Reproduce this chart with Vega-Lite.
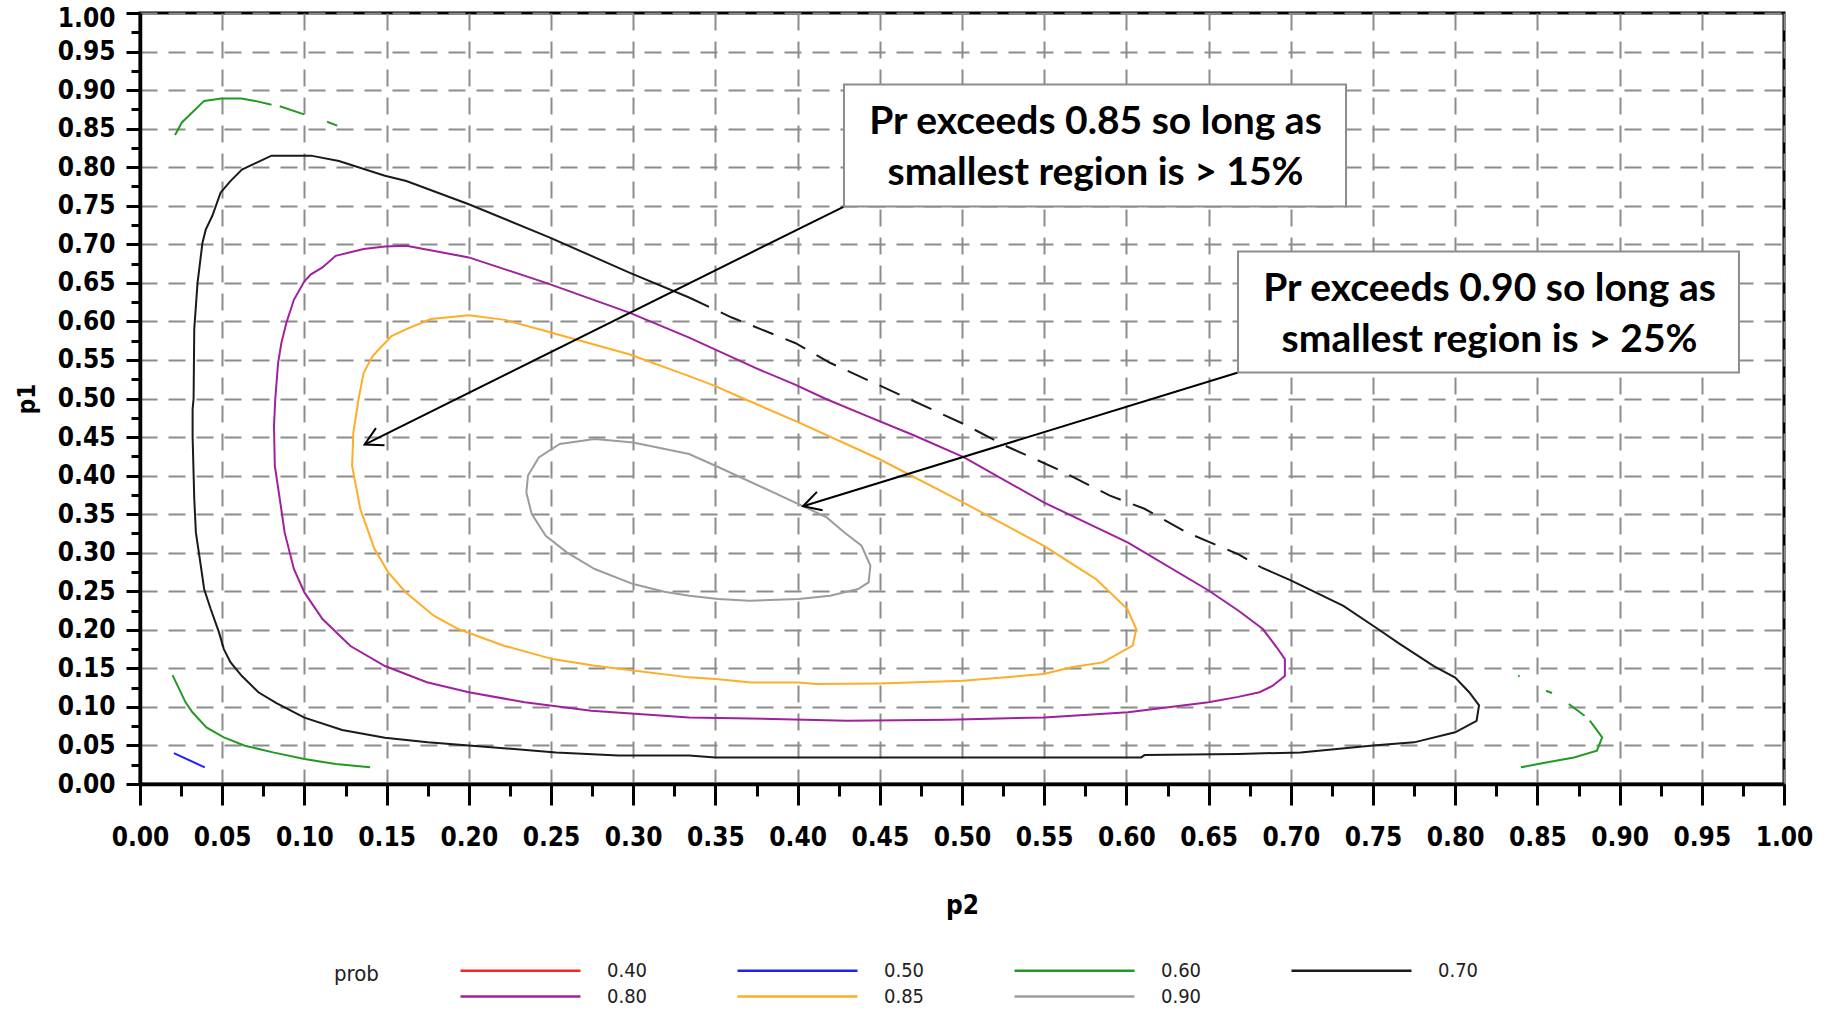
{
  "$schema": "https://vega.github.io/schema/vega-lite/v6.json",
  "width": 1644,
  "height": 771,
  "autosize": {"type": "none"},
  "padding": {"left": 140, "top": 13, "right": 41, "bottom": 230},
  "background": "white",
  "resolve": {"axis": {"x": "independent", "y": "independent"}},
  "config": {
    "view": {"stroke": "black", "strokeWidth": 3},
    "axis": {
      "domainColor": "black", "domainWidth": 3.5,
      "tickColor": "black", "tickWidth": 3,
      "gridColor": "#8c8c8c", "gridWidth": 2, "gridDash": [17, 11],
      "labelFont": "DejaVu Sans Condensed, Liberation Sans Narrow, DejaVu Sans",
      "labelFontWeight": "bold", "labelFontSize": 26, "labelColor": "black",
      "labelOverlap": false, "labelFlush": false, "labelBound": false,
      "titleFont": "DejaVu Sans Condensed, Liberation Sans Narrow, DejaVu Sans",
      "titleFontWeight": "bold", "titleFontSize": 26, "titleColor": "black"
    }
  },
  "datasets": {
    "contours": [
      {"prob":"0.70","seg":"70s","i":0,"p2":0.334,"p1":0.631},
      {"prob":"0.70","seg":"70s","i":1,"p2":0.298,"p1":0.663},
      {"prob":"0.70","seg":"70s","i":2,"p2":0.249,"p1":0.709},
      {"prob":"0.70","seg":"70s","i":3,"p2":0.200,"p1":0.752},
      {"prob":"0.70","seg":"70s","i":4,"p2":0.162,"p1":0.782},
      {"prob":"0.70","seg":"70s","i":5,"p2":0.149,"p1":0.789},
      {"prob":"0.70","seg":"70s","i":6,"p2":0.121,"p1":0.808},
      {"prob":"0.70","seg":"70s","i":7,"p2":0.104,"p1":0.815},
      {"prob":"0.70","seg":"70s","i":8,"p2":0.080,"p1":0.815},
      {"prob":"0.70","seg":"70s","i":9,"p2":0.070,"p1":0.805},
      {"prob":"0.70","seg":"70s","i":10,"p2":0.062,"p1":0.797},
      {"prob":"0.70","seg":"70s","i":11,"p2":0.055,"p1":0.782},
      {"prob":"0.70","seg":"70s","i":12,"p2":0.049,"p1":0.767},
      {"prob":"0.70","seg":"70s","i":13,"p2":0.044,"p1":0.737},
      {"prob":"0.70","seg":"70s","i":14,"p2":0.040,"p1":0.719},
      {"prob":"0.70","seg":"70s","i":15,"p2":0.038,"p1":0.702},
      {"prob":"0.70","seg":"70s","i":16,"p2":0.035,"p1":0.650},
      {"prob":"0.70","seg":"70s","i":17,"p2":0.033,"p1":0.590},
      {"prob":"0.70","seg":"70s","i":18,"p2":0.0326,"p1":0.500},
      {"prob":"0.70","seg":"70s","i":19,"p2":0.032,"p1":0.486},
      {"prob":"0.70","seg":"70s","i":20,"p2":0.032,"p1":0.450},
      {"prob":"0.70","seg":"70s","i":21,"p2":0.033,"p1":0.370},
      {"prob":"0.70","seg":"70s","i":22,"p2":0.034,"p1":0.326},
      {"prob":"0.70","seg":"70s","i":23,"p2":0.037,"p1":0.283},
      {"prob":"0.70","seg":"70s","i":24,"p2":0.039,"p1":0.253},
      {"prob":"0.70","seg":"70s","i":25,"p2":0.043,"p1":0.227},
      {"prob":"0.70","seg":"70s","i":26,"p2":0.048,"p1":0.197},
      {"prob":"0.70","seg":"70s","i":27,"p2":0.051,"p1":0.175},
      {"prob":"0.70","seg":"70s","i":28,"p2":0.055,"p1":0.158},
      {"prob":"0.70","seg":"70s","i":29,"p2":0.062,"p1":0.140},
      {"prob":"0.70","seg":"70s","i":30,"p2":0.072,"p1":0.119},
      {"prob":"0.70","seg":"70s","i":31,"p2":0.083,"p1":0.105},
      {"prob":"0.70","seg":"70s","i":32,"p2":0.100,"p1":0.086},
      {"prob":"0.70","seg":"70s","i":33,"p2":0.123,"p1":0.070},
      {"prob":"0.70","seg":"70s","i":34,"p2":0.149,"p1":0.060},
      {"prob":"0.70","seg":"70s","i":35,"p2":0.175,"p1":0.054},
      {"prob":"0.70","seg":"70s","i":36,"p2":0.200,"p1":0.050},
      {"prob":"0.70","seg":"70s","i":37,"p2":0.253,"p1":0.041},
      {"prob":"0.70","seg":"70s","i":38,"p2":0.291,"p1":0.037},
      {"prob":"0.70","seg":"70s","i":39,"p2":0.334,"p1":0.037},
      {"prob":"0.70","seg":"70s","i":40,"p2":0.350,"p1":0.0345},
      {"prob":"0.70","seg":"70s","i":41,"p2":0.609,"p1":0.0345},
      {"prob":"0.70","seg":"70s","i":42,"p2":0.611,"p1":0.0375},
      {"prob":"0.70","seg":"70s","i":43,"p2":0.668,"p1":0.039},
      {"prob":"0.70","seg":"70s","i":44,"p2":0.706,"p1":0.041},
      {"prob":"0.70","seg":"70s","i":45,"p2":0.750,"p1":0.050},
      {"prob":"0.70","seg":"70s","i":46,"p2":0.775,"p1":0.054},
      {"prob":"0.70","seg":"70s","i":47,"p2":0.800,"p1":0.067},
      {"prob":"0.70","seg":"70s","i":48,"p2":0.813,"p1":0.082},
      {"prob":"0.70","seg":"70s","i":49,"p2":0.8145,"p1":0.102},
      {"prob":"0.70","seg":"70s","i":50,"p2":0.8085,"p1":0.119},
      {"prob":"0.70","seg":"70s","i":51,"p2":0.800,"p1":0.138},
      {"prob":"0.70","seg":"70s","i":52,"p2":0.787,"p1":0.153},
      {"prob":"0.70","seg":"70s","i":53,"p2":0.766,"p1":0.182},
      {"prob":"0.70","seg":"70s","i":54,"p2":0.753,"p1":0.201},
      {"prob":"0.70","seg":"70s","i":55,"p2":0.732,"p1":0.231},
      {"prob":"0.70","seg":"70s","i":56,"p2":0.700,"p1":0.264},
      {"prob":"0.70","seg":"70s","i":57,"p2":0.682,"p1":0.281},

      {"prob":"0.80","seg":"80","i":0,"p2":0.0823,"p1":0.500},
      {"prob":"0.80","seg":"80","i":1,"p2":0.084,"p1":0.546},
      {"prob":"0.80","seg":"80","i":2,"p2":0.086,"p1":0.572},
      {"prob":"0.80","seg":"80","i":3,"p2":0.089,"p1":0.598},
      {"prob":"0.80","seg":"80","i":4,"p2":0.0936,"p1":0.628},
      {"prob":"0.80","seg":"80","i":5,"p2":0.100,"p1":0.652},
      {"prob":"0.80","seg":"80","i":6,"p2":0.104,"p1":0.661},
      {"prob":"0.80","seg":"80","i":7,"p2":0.111,"p1":0.670},
      {"prob":"0.80","seg":"80","i":8,"p2":0.119,"p1":0.685},
      {"prob":"0.80","seg":"80","i":9,"p2":0.136,"p1":0.694},
      {"prob":"0.80","seg":"80","i":10,"p2":0.149,"p1":0.697},
      {"prob":"0.80","seg":"80","i":11,"p2":0.162,"p1":0.698},
      {"prob":"0.80","seg":"80","i":12,"p2":0.200,"p1":0.683},
      {"prob":"0.80","seg":"80","i":13,"p2":0.247,"p1":0.650},
      {"prob":"0.80","seg":"80","i":14,"p2":0.298,"p1":0.611},
      {"prob":"0.80","seg":"80","i":15,"p2":0.334,"p1":0.579},
      {"prob":"0.80","seg":"80","i":16,"p2":0.350,"p1":0.5635},
      {"prob":"0.80","seg":"80","i":17,"p2":0.375,"p1":0.539},
      {"prob":"0.80","seg":"80","i":18,"p2":0.3985,"p1":0.518},
      {"prob":"0.80","seg":"80","i":19,"p2":0.4166,"p1":0.500},
      {"prob":"0.80","seg":"80","i":20,"p2":0.439,"p1":0.480},
      {"prob":"0.80","seg":"80","i":21,"p2":0.471,"p1":0.452},
      {"prob":"0.80","seg":"80","i":22,"p2":0.501,"p1":0.424},
      {"prob":"0.80","seg":"80","i":23,"p2":0.550,"p1":0.365},
      {"prob":"0.80","seg":"80","i":24,"p2":0.601,"p1":0.313},
      {"prob":"0.80","seg":"80","i":25,"p2":0.650,"p1":0.251},
      {"prob":"0.80","seg":"80","i":26,"p2":0.668,"p1":0.225},
      {"prob":"0.80","seg":"80","i":27,"p2":0.683,"p1":0.201},
      {"prob":"0.80","seg":"80","i":28,"p2":0.6915,"p1":0.177},
      {"prob":"0.80","seg":"80","i":29,"p2":0.6964,"p1":0.162},
      {"prob":"0.80","seg":"80","i":30,"p2":0.6964,"p1":0.140},
      {"prob":"0.80","seg":"80","i":31,"p2":0.689,"p1":0.1275},
      {"prob":"0.80","seg":"80","i":32,"p2":0.681,"p1":0.119},
      {"prob":"0.80","seg":"80","i":33,"p2":0.668,"p1":0.113},
      {"prob":"0.80","seg":"80","i":34,"p2":0.650,"p1":0.106},
      {"prob":"0.80","seg":"80","i":35,"p2":0.601,"p1":0.093},
      {"prob":"0.80","seg":"80","i":36,"p2":0.550,"p1":0.0864},
      {"prob":"0.80","seg":"80","i":37,"p2":0.492,"p1":0.0834},
      {"prob":"0.80","seg":"80","i":38,"p2":0.430,"p1":0.082},
      {"prob":"0.80","seg":"80","i":39,"p2":0.371,"p1":0.085},
      {"prob":"0.80","seg":"80","i":40,"p2":0.334,"p1":0.0864},
      {"prob":"0.80","seg":"80","i":41,"p2":0.2745,"p1":0.095},
      {"prob":"0.80","seg":"80","i":42,"p2":0.234,"p1":0.106},
      {"prob":"0.80","seg":"80","i":43,"p2":0.200,"p1":0.119},
      {"prob":"0.80","seg":"80","i":44,"p2":0.1745,"p1":0.132},
      {"prob":"0.80","seg":"80","i":45,"p2":0.149,"p1":0.153},
      {"prob":"0.80","seg":"80","i":46,"p2":0.128,"p1":0.179},
      {"prob":"0.80","seg":"80","i":47,"p2":0.111,"p1":0.214},
      {"prob":"0.80","seg":"80","i":48,"p2":0.100,"p1":0.2485},
      {"prob":"0.80","seg":"80","i":49,"p2":0.0936,"p1":0.279},
      {"prob":"0.80","seg":"80","i":50,"p2":0.088,"p1":0.326},
      {"prob":"0.80","seg":"80","i":51,"p2":0.085,"p1":0.370},
      {"prob":"0.80","seg":"80","i":52,"p2":0.082,"p1":0.413},
      {"prob":"0.80","seg":"80","i":53,"p2":0.0815,"p1":0.465},
      {"prob":"0.80","seg":"80","i":54,"p2":0.0823,"p1":0.500},

      {"prob":"0.85","seg":"85","i":0,"p2":0.133,"p1":0.500},
      {"prob":"0.85","seg":"85","i":1,"p2":0.136,"p1":0.533},
      {"prob":"0.85","seg":"85","i":2,"p2":0.1415,"p1":0.555},
      {"prob":"0.85","seg":"85","i":3,"p2":0.149,"p1":0.572},
      {"prob":"0.85","seg":"85","i":4,"p2":0.153,"p1":0.581},
      {"prob":"0.85","seg":"85","i":5,"p2":0.162,"p1":0.590},
      {"prob":"0.85","seg":"85","i":6,"p2":0.177,"p1":0.603},
      {"prob":"0.85","seg":"85","i":7,"p2":0.200,"p1":0.608},
      {"prob":"0.85","seg":"85","i":8,"p2":0.222,"p1":0.602},
      {"prob":"0.85","seg":"85","i":9,"p2":0.251,"p1":0.585},
      {"prob":"0.85","seg":"85","i":10,"p2":0.298,"p1":0.557},
      {"prob":"0.85","seg":"85","i":11,"p2":0.334,"p1":0.529},
      {"prob":"0.85","seg":"85","i":12,"p2":0.350,"p1":0.516},
      {"prob":"0.85","seg":"85","i":13,"p2":0.367,"p1":0.500},
      {"prob":"0.85","seg":"85","i":14,"p2":0.4006,"p1":0.469},
      {"prob":"0.85","seg":"85","i":15,"p2":0.4496,"p1":0.4215},
      {"prob":"0.85","seg":"85","i":16,"p2":0.5006,"p1":0.3653},
      {"prob":"0.85","seg":"85","i":17,"p2":0.5496,"p1":0.3091},
      {"prob":"0.85","seg":"85","i":18,"p2":0.5815,"p1":0.2658},
      {"prob":"0.85","seg":"85","i":19,"p2":0.6006,"p1":0.2269},
      {"prob":"0.85","seg":"85","i":20,"p2":0.606,"p1":0.201},
      {"prob":"0.85","seg":"85","i":21,"p2":0.6038,"p1":0.1794},
      {"prob":"0.85","seg":"85","i":22,"p2":0.5857,"p1":0.1577},
      {"prob":"0.85","seg":"85","i":23,"p2":0.5666,"p1":0.1513},
      {"prob":"0.85","seg":"85","i":24,"p2":0.5496,"p1":0.1426},
      {"prob":"0.85","seg":"85","i":25,"p2":0.5006,"p1":0.134},
      {"prob":"0.85","seg":"85","i":26,"p2":0.4496,"p1":0.1305},
      {"prob":"0.85","seg":"85","i":27,"p2":0.4113,"p1":0.1296},
      {"prob":"0.85","seg":"85","i":28,"p2":0.4006,"p1":0.1318},
      {"prob":"0.85","seg":"85","i":29,"p2":0.3719,"p1":0.1318},
      {"prob":"0.85","seg":"85","i":30,"p2":0.350,"p1":0.1361},
      {"prob":"0.85","seg":"85","i":31,"p2":0.334,"p1":0.1383},
      {"prob":"0.85","seg":"85","i":32,"p2":0.2766,"p1":0.1534},
      {"prob":"0.85","seg":"85","i":33,"p2":0.251,"p1":0.162},
      {"prob":"0.85","seg":"85","i":34,"p2":0.2213,"p1":0.1794},
      {"prob":"0.85","seg":"85","i":35,"p2":0.1936,"p1":0.201},
      {"prob":"0.85","seg":"85","i":36,"p2":0.1787,"p1":0.2183},
      {"prob":"0.85","seg":"85","i":37,"p2":0.1617,"p1":0.2485},
      {"prob":"0.85","seg":"85","i":38,"p2":0.151,"p1":0.2745},
      {"prob":"0.85","seg":"85","i":39,"p2":0.1426,"p1":0.305},
      {"prob":"0.85","seg":"85","i":40,"p2":0.134,"p1":0.3566},
      {"prob":"0.85","seg":"85","i":41,"p2":0.129,"p1":0.413},
      {"prob":"0.85","seg":"85","i":42,"p2":0.1298,"p1":0.456},
      {"prob":"0.85","seg":"85","i":43,"p2":0.133,"p1":0.500},

      {"prob":"0.90","seg":"90","i":0,"p2":0.2766,"p1":0.4474},
      {"prob":"0.90","seg":"90","i":1,"p2":0.300,"p1":0.443},
      {"prob":"0.90","seg":"90","i":2,"p2":0.334,"p1":0.428},
      {"prob":"0.90","seg":"90","i":3,"p2":0.350,"p1":0.4128},
      {"prob":"0.90","seg":"90","i":4,"p2":0.4006,"p1":0.3631},
      {"prob":"0.90","seg":"90","i":5,"p2":0.4177,"p1":0.3458},
      {"prob":"0.90","seg":"90","i":6,"p2":0.4283,"p1":0.3264},
      {"prob":"0.90","seg":"90","i":7,"p2":0.4389,"p1":0.309},
      {"prob":"0.90","seg":"90","i":8,"p2":0.4443,"p1":0.2831},
      {"prob":"0.90","seg":"90","i":9,"p2":0.4432,"p1":0.2615},
      {"prob":"0.90","seg":"90","i":10,"p2":0.4368,"p1":0.2529},
      {"prob":"0.90","seg":"90","i":11,"p2":0.4198,"p1":0.2442},
      {"prob":"0.90","seg":"90","i":12,"p2":0.4006,"p1":0.2399},
      {"prob":"0.90","seg":"90","i":13,"p2":0.3708,"p1":0.2377},
      {"prob":"0.90","seg":"90","i":14,"p2":0.3517,"p1":0.2399},
      {"prob":"0.90","seg":"90","i":15,"p2":0.334,"p1":0.2442},
      {"prob":"0.90","seg":"90","i":16,"p2":0.319,"p1":0.2494},
      {"prob":"0.90","seg":"90","i":17,"p2":0.300,"p1":0.2593},
      {"prob":"0.90","seg":"90","i":18,"p2":0.2766,"p1":0.2788},
      {"prob":"0.90","seg":"90","i":19,"p2":0.2596,"p1":0.3004},
      {"prob":"0.90","seg":"90","i":20,"p2":0.2468,"p1":0.322},
      {"prob":"0.90","seg":"90","i":21,"p2":0.2383,"p1":0.350},
      {"prob":"0.90","seg":"90","i":22,"p2":0.235,"p1":0.378},
      {"prob":"0.90","seg":"90","i":23,"p2":0.236,"p1":0.400},
      {"prob":"0.90","seg":"90","i":24,"p2":0.2426,"p1":0.4236},
      {"prob":"0.90","seg":"90","i":25,"p2":0.2553,"p1":0.441},
      {"prob":"0.90","seg":"90","i":26,"p2":0.2766,"p1":0.4474},

      {"prob":"0.60","seg":"60a","i":0,"p2":0.0213,"p1":0.8417},
      {"prob":"0.60","seg":"60a","i":1,"p2":0.0255,"p1":0.858},
      {"prob":"0.60","seg":"60a","i":2,"p2":0.039,"p1":0.886},
      {"prob":"0.60","seg":"60a","i":3,"p2":0.0496,"p1":0.889},
      {"prob":"0.60","seg":"60a","i":4,"p2":0.0617,"p1":0.889},
      {"prob":"0.60","seg":"60a","i":5,"p2":0.070,"p1":0.886},
      {"prob":"0.60","seg":"60a","i":6,"p2":0.080,"p1":0.881},
      {"prob":"0.60","seg":"60b","i":0,"p2":0.085,"p1":0.879},
      {"prob":"0.60","seg":"60b","i":1,"p2":0.0998,"p1":0.8685},
      {"prob":"0.60","seg":"60c","i":0,"p2":0.1138,"p1":0.859},
      {"prob":"0.60","seg":"60c","i":1,"p2":0.120,"p1":0.854},
      {"prob":"0.60","seg":"60d","i":0,"p2":0.0198,"p1":0.1413},
      {"prob":"0.60","seg":"60d","i":1,"p2":0.0277,"p1":0.1059},
      {"prob":"0.60","seg":"60d","i":2,"p2":0.0319,"p1":0.093},
      {"prob":"0.60","seg":"60d","i":3,"p2":0.0404,"p1":0.0734},
      {"prob":"0.60","seg":"60d","i":4,"p2":0.051,"p1":0.0605},
      {"prob":"0.60","seg":"60d","i":5,"p2":0.0638,"p1":0.0497},
      {"prob":"0.60","seg":"60d","i":6,"p2":0.0809,"p1":0.041},
      {"prob":"0.60","seg":"60d","i":7,"p2":0.100,"p1":0.0324},
      {"prob":"0.60","seg":"60d","i":8,"p2":0.119,"p1":0.0259},
      {"prob":"0.60","seg":"60d","i":9,"p2":0.140,"p1":0.0216},
      {"prob":"0.60","seg":"60e","i":0,"p2":0.8383,"p1":0.1404},
      {"prob":"0.60","seg":"60e","i":1,"p2":0.8392,"p1":0.1398},
      {"prob":"0.60","seg":"60f","i":0,"p2":0.8553,"p1":0.121},
      {"prob":"0.60","seg":"60f","i":1,"p2":0.8589,"p1":0.118},
      {"prob":"0.60","seg":"60g","i":0,"p2":0.8691,"p1":0.1037},
      {"prob":"0.60","seg":"60g","i":1,"p2":0.8787,"p1":0.0886},
      {"prob":"0.60","seg":"60h","i":0,"p2":0.8819,"p1":0.0821},
      {"prob":"0.60","seg":"60h","i":1,"p2":0.8894,"p1":0.0605},
      {"prob":"0.60","seg":"60h","i":2,"p2":0.8862,"p1":0.0432},
      {"prob":"0.60","seg":"60h","i":3,"p2":0.8723,"p1":0.0345},
      {"prob":"0.60","seg":"60h","i":4,"p2":0.8553,"p1":0.028},
      {"prob":"0.60","seg":"60h","i":5,"p2":0.840,"p1":0.0216},

      {"prob":"0.50","seg":"50","i":0,"p2":0.0206,"p1":0.040},
      {"prob":"0.50","seg":"50","i":1,"p2":0.0394,"p1":0.0216}
    ],
    "dashed": [
      {"prob":"0.70","seg":"70d","i":0,"p2":0.334,"p1":0.631},
      {"prob":"0.70","seg":"70d","i":1,"p2":0.360,"p1":0.605},
      {"prob":"0.70","seg":"70d","i":2,"p2":0.3985,"p1":0.572},
      {"prob":"0.70","seg":"70d","i":3,"p2":0.420,"p1":0.546},
      {"prob":"0.70","seg":"70d","i":4,"p2":0.460,"p1":0.507},
      {"prob":"0.70","seg":"70d","i":5,"p2":0.501,"p1":0.467},
      {"prob":"0.70","seg":"70d","i":6,"p2":0.526,"p1":0.439},
      {"prob":"0.70","seg":"70d","i":7,"p2":0.558,"p1":0.4085},
      {"prob":"0.70","seg":"70d","i":8,"p2":0.590,"p1":0.374},
      {"prob":"0.70","seg":"70d","i":9,"p2":0.611,"p1":0.357},
      {"prob":"0.70","seg":"70d","i":10,"p2":0.637,"p1":0.326},
      {"prob":"0.70","seg":"70d","i":11,"p2":0.668,"p1":0.298},
      {"prob":"0.70","seg":"70d","i":12,"p2":0.682,"p1":0.281}
    ],
    "arrows": [
      {"id":1,"p2":0.4282,"p1":0.749,"p2e":0.1366,"p1e":0.4403},
      {"id":2,"p2":0.6679,"p1":0.5337,"p2e":0.4033,"p1e":0.3603}
    ],
    "boxes": [
      {"id":1,"bx1":0.4282,"bx2":0.7336,"by1":0.9073,"by2":0.749,"cx":0.5812,"cy":0.858,"t":["Pr exceeds 0.85 so long as","smallest region is > 15%"]},
      {"id":2,"bx1":0.6679,"bx2":0.9726,"by1":0.6907,"by2":0.5337,"cx":0.8209,"cy":0.6414,"t":["Pr exceeds 0.90 so long as","smallest region is > 25%"]}
    ]
  },
  "layer": [
    {
      "data": {"name": "contours"},
      "mark": {"type": "line", "strokeWidth": 2, "interpolate": "linear"},
      "encoding": {
        "x": {
          "field": "p2", "type": "quantitative", "title": "p2",
          "scale": {"domain": [0, 1], "nice": false, "zero": false},
          "axis": {
            "orient": "bottom",
            "values": [0,0.05,0.1,0.15,0.2,0.25,0.3,0.35,0.4,0.45,0.5,0.55,0.6,0.65,0.7,0.75,0.8,0.85,0.9,0.95,1],
            "format": ".2f",
            "tickSize": 21,
            "grid": true,
            "labelOverlap": false,
            "labelPadding": 19,
            "titlePadding": 42
          }
        },
        "y": {
          "field": "p1", "type": "quantitative", "title": "p1",
          "scale": {"domain": [0, 1], "nice": false, "zero": false},
          "axis": {
            "orient": "left",
            "values": [0,0.05,0.1,0.15,0.2,0.25,0.3,0.35,0.4,0.45,0.5,0.55,0.6,0.65,0.7,0.75,0.8,0.85,0.9,0.95,1],
            "format": ".2f",
            "tickSize": 14,
            "grid": true,
            "labelOverlap": false,
            "labelOffset": {"condition": {"test": "datum.value === 1", "value": 5}, "value": 0},
            "labelPadding": 11,
            "titleFontSize": 24,
            "titlePadding": 18
          }
        },
        "color": {
          "field": "prob", "type": "nominal",
          "scale": {
            "domain": ["0.40","0.50","0.60","0.70","0.80","0.85","0.90"],
            "range": ["#ff2020","#2020ff","#229a22","#1a1a1a","#a020a0","#ffad26","#9c9c9c"]
          },
          "legend": {
            "orient": "none", "legendX": 194, "legendY": 944,
            "direction": "horizontal", "columns": 4,
            "title": "prob", "titleOrient": "left", "titlePadding": 80,
            "titleAnchor": "start", "titleBaseline": "line-top", "titleLineHeight": 36,
            "titleFont": "DejaVu Sans Condensed, Liberation Sans Narrow, DejaVu Sans",
            "titleFontSize": 22, "titleFontWeight": "normal", "titleColor": "#222",
            "symbolType": "M-1,0H9", "symbolSize": 576, "symbolStrokeWidth": 2.5,
            "labelOffset": 121, "columnPadding": 84, "rowPadding": 2,
            "labelFont": "DejaVu Sans Condensed, Liberation Sans Narrow, DejaVu Sans",
            "labelFontSize": 20, "labelColor": "#222", "padding": 0
          }
        },
        "detail": {"field": "seg"},
        "order": {"field": "i", "type": "quantitative"}
      }
    },
    {
      "data": {"name": "arrows"},
      "mark": {"type": "point", "opacity": 0},
      "encoding": {
        "x": {
          "field": "p2", "type": "quantitative",
          "axis": {
            "orient": "bottom", "title": null, "labels": false, "domain": false, "grid": false,
            "values": [0.025,0.075,0.125,0.175,0.225,0.275,0.325,0.375,0.425,0.475,0.525,0.575,0.625,0.675,0.725,0.775,0.825,0.875,0.925,0.975],
            "tickSize": 12
          }
        },
        "y": {
          "field": "p1", "type": "quantitative",
          "axis": {
            "orient": "left", "title": null, "labels": false, "domain": false, "grid": false,
            "values": [0.025,0.075,0.125,0.175,0.225,0.275,0.325,0.375,0.425,0.475,0.525,0.575,0.625,0.675,0.725,0.775,0.825,0.875,0.925,0.975],
            "tickSize": 9
          }
        }
      }
    },
    {
      "data": {"name": "dashed"},
      "mark": {"type": "line", "strokeWidth": 2, "strokeDash": [22, 13]},
      "encoding": {
        "x": {"field": "p2", "type": "quantitative", "axis": null},
        "y": {"field": "p1", "type": "quantitative", "axis": null},
        "color": {"field": "prob", "type": "nominal"},
        "detail": {"field": "seg"},
        "order": {"field": "i", "type": "quantitative"}
      }
    },
    {
      "data": {"name": "arrows"},
      "mark": {"type": "rule", "color": "black", "strokeWidth": 2},
      "encoding": {
        "x": {"field": "p2", "type": "quantitative", "axis": null},
        "y": {"field": "p1", "type": "quantitative", "axis": null},
        "x2": {"field": "p2e"},
        "y2": {"field": "p1e"}
      }
    },
    {
      "data": {"name": "arrows"},
      "transform": [{"filter": "datum.id === 1"}],
      "mark": {"type": "point", "shape": "M-1,-0.55L0,0L-1,0.55", "filled": false, "color": "black", "stroke": "black", "strokeWidth": 2, "size": 1225, "angle": 153.6, "opacity": 1},
      "encoding": {
        "x": {"field": "p2e", "type": "quantitative", "axis": null},
        "y": {"field": "p1e", "type": "quantitative", "axis": null}
      }
    },
    {
      "data": {"name": "arrows"},
      "transform": [{"filter": "datum.id === 2"}],
      "mark": {"type": "point", "shape": "M-1,-0.55L0,0L-1,0.55", "filled": false, "color": "black", "stroke": "black", "strokeWidth": 2, "size": 1225, "angle": 162.9, "opacity": 1},
      "encoding": {
        "x": {"field": "p2e", "type": "quantitative", "axis": null},
        "y": {"field": "p1e", "type": "quantitative", "axis": null}
      }
    },
    {
      "data": {"name": "boxes"},
      "mark": {"type": "rect", "fill": "white", "stroke": "#8c8c8c", "strokeWidth": 2},
      "encoding": {
        "x": {"field": "bx1", "type": "quantitative", "axis": null},
        "x2": {"field": "bx2"},
        "y": {"field": "by1", "type": "quantitative", "axis": null},
        "y2": {"field": "by2"}
      }
    },
    {
      "data": {"name": "boxes"},
      "mark": {"type": "text", "font": "Lato", "fontWeight": "bold", "fontSize": 39, "lineHeight": 51, "align": "center", "baseline": "middle", "color": "black"},
      "encoding": {
        "x": {"field": "cx", "type": "quantitative", "axis": null},
        "y": {"field": "cy", "type": "quantitative", "axis": null},
        "text": {"field": "t"}
      }
    }
  ]
}
